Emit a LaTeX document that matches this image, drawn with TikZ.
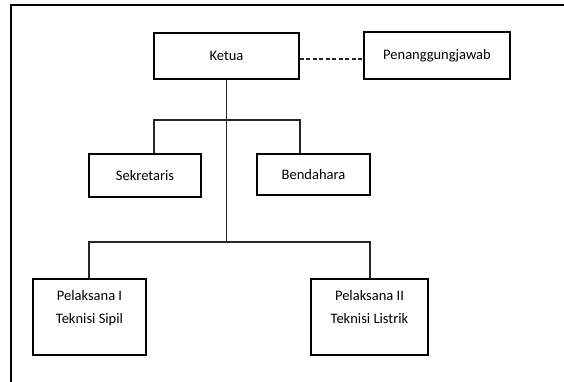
\documentclass[tikz,border=0pt]{standalone}
\usepackage{fontspec}
\setmainfont{Carlito}
\begin{document}
\begin{tikzpicture}[x=1pt,y=-1pt,
  box/.style={draw=black, line width=1.3pt, fill=white, rectangle, inner sep=0pt, align=center,
    font=\fontsize{14.5}{23}\selectfont},
  conn/.style={draw=black!85, line width=1.1pt}]
\useasboundingbox (0,0) rectangle (564,382);
\fill[white] (0,0) rectangle (564,382);
\draw[line width=2.2pt] (11,382) -- (11,5) -- (564,5);
\node[box, minimum width=145pt, minimum height=46pt] (ket) at (226.5,56) {Ketua};
\node[box, minimum width=146pt, minimum height=47pt] (pj) at (437,55.5) {Penanggungjawab};
\node[box, minimum width=112pt, minimum height=43pt] (sek) at (145,175.5) {Sekretaris};
\node[box, minimum width=113pt, minimum height=41pt] (ben) at (313.5,174.5) {Bendahara};
\node[box, minimum width=113pt, minimum height=76pt] (p1) at (89.5,317) {Pelaksana I\\Teknisi Sipil\\[-10pt]\strut};
\node[box, minimum width=117pt, minimum height=76pt] (p2) at (369.5,317) {Pelaksana II\\Teknisi Listrik\\[-10pt]\strut};
\coordinate (h1l) at (154,120);
\coordinate (h1r) at (300,120);
\coordinate (h2l) at (89,242);
\coordinate (h2r) at (370,242);
\coordinate (d1) at (299,59);
\draw[conn] (ket.south) -- (ket.south |- h2l);
\draw[conn] (h1l |- sek.north) -- (h1l) -- (h1r) -- (h1r |- ben.north);
\draw[conn] (h2l |- p1.north) -- (h2l) -- (h2r) -- (h2r |- p2.north);
\draw[conn, dashed, dash pattern=on 4pt off 2.5pt] (ket.east |- d1) -- (pj.west |- d1);
\end{tikzpicture}
\end{document}
